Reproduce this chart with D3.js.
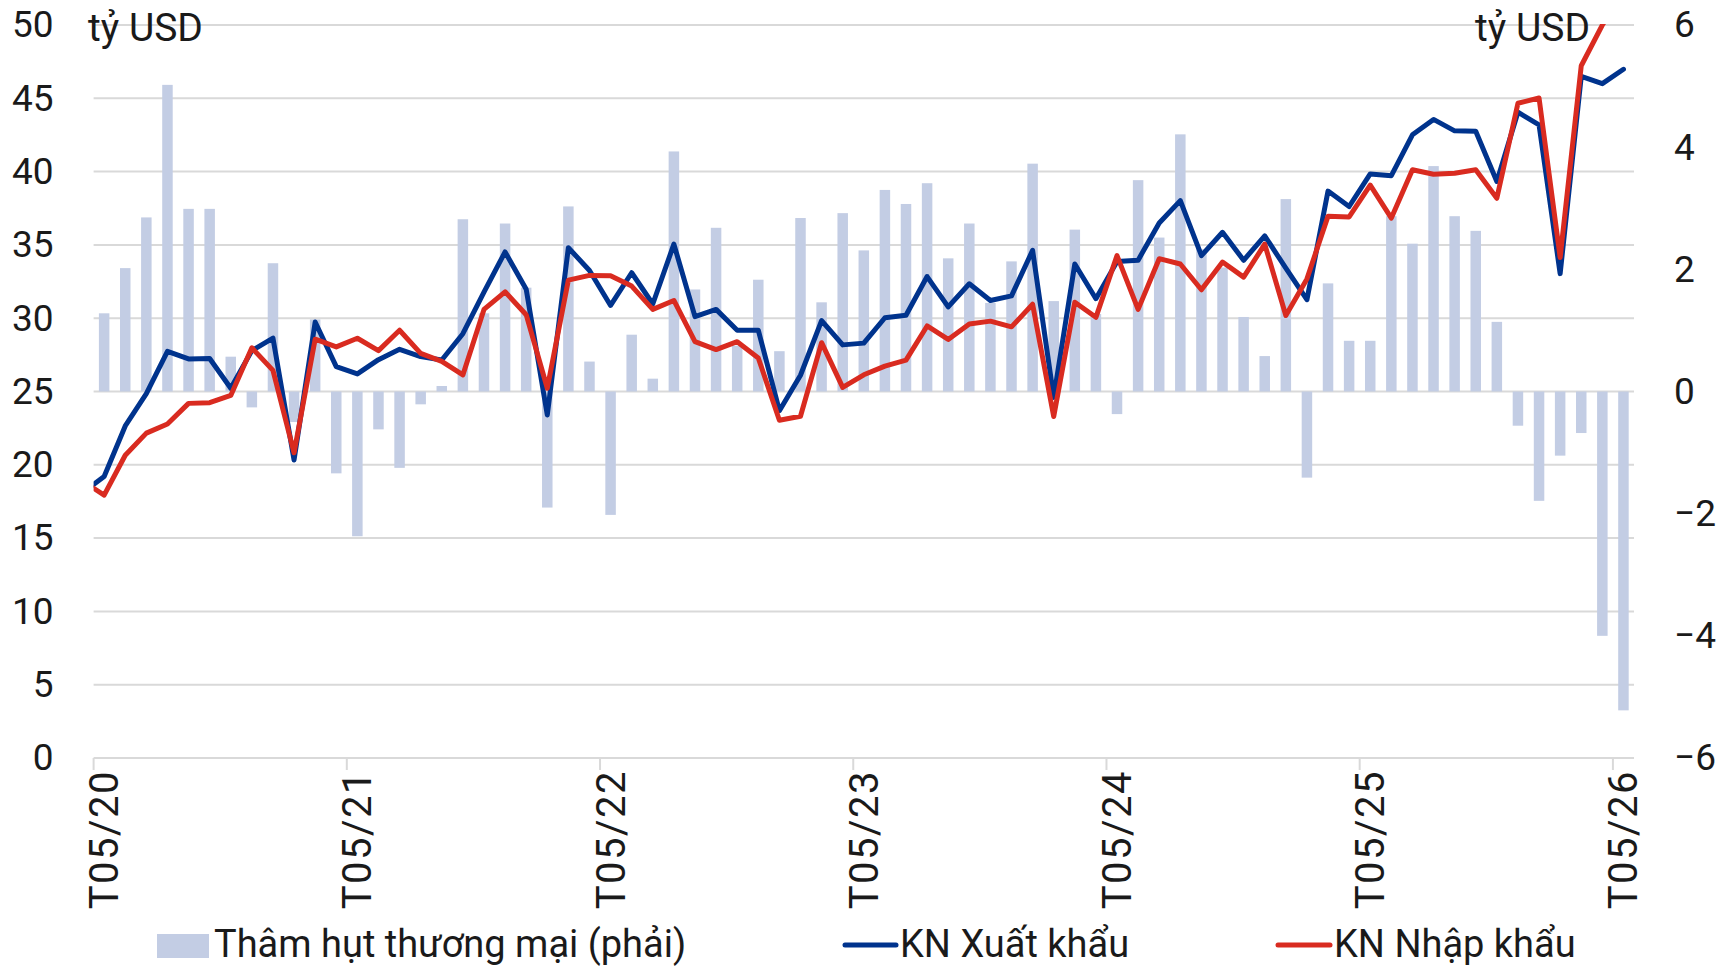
<!DOCTYPE html>
<html>
<head>
<meta charset="utf-8">
<script src="https://cdn.jsdelivr.net/npm/d3@7"></script>
<style>
  body { margin: 0; background: #fff; }
  svg { display: block; font-family: Roboto, "DejaVu Sans", sans-serif; }
</style>
</head>
<body>
<svg id="chart" width="1725" height="967"></svg>
<script>
// months shown on the axis (T05/20 .. T05/26)
const months = [
  "T05/20","T06/20","T07/20","T08/20","T09/20","T10/20","T11/20","T12/20",
  "T01/21","T02/21","T03/21","T04/21","T05/21","T06/21","T07/21","T08/21","T09/21","T10/21","T11/21","T12/21",
  "T01/22","T02/22","T03/22","T04/22","T05/22","T06/22","T07/22","T08/22","T09/22","T10/22","T11/22","T12/22",
  "T01/23","T02/23","T03/23","T04/23","T05/23","T06/23","T07/23","T08/23","T09/23","T10/23","T11/23","T12/23",
  "T01/24","T02/24","T03/24","T04/24","T05/24","T06/24","T07/24","T08/24","T09/24","T10/24","T11/24","T12/24",
  "T01/25","T02/25","T03/25","T04/25","T05/25","T06/25","T07/25","T08/25","T09/25","T10/25","T11/25","T12/25",
  "T01/26","T02/26","T03/26","T04/26","T05/26"
];
// month before the first one, only its line segment peeks into the plot
const prevMonth = "T04/20";
const tickLabels = ["T05/20","T05/21","T05/22","T05/23","T05/24","T05/25","T05/26"];

// export value, bn USD (left axis)
const exportsPrev = 18.12;
const exportsVal = [
  19.2, 22.65, 24.85, 27.74, 27.22, 27.25, 25.22, 27.79, 28.64, 20.33, 29.74, 26.7,
  26.2, 27.17, 27.88, 27.38, 27.15, 28.94, 31.78, 34.52, 31.98, 23.4, 34.81, 33.25,
  30.87, 33.1, 30.97, 35.05, 30.11, 30.6, 29.18, 29.18, 23.69, 26.11, 29.83, 28.18,
  28.3, 30.03, 30.2, 32.84, 30.77, 32.35, 31.21, 31.52, 34.63, 24.6, 33.7, 31.33,
  33.86, 33.96, 36.5, 38.02, 34.27, 35.86, 33.95, 35.62, 33.41, 31.26, 38.67, 37.62,
  39.84, 39.72, 42.51, 43.56, 42.78, 42.75, 39.33, 44.05, 43.19, 33.04, 46.49, 46.0,
  46.98
];
// import value, bn USD (left axis)
const importsPrev = 18.87;
const importsVal = [
  17.93, 20.65, 22.16, 22.78, 24.19, 24.24, 24.73, 27.98, 26.44, 20.82, 28.57, 28.04,
  28.63, 27.79, 29.18, 27.6, 27.05, 26.13, 30.6, 31.8, 30.24, 25.22, 32.6, 32.92,
  32.9, 32.19, 30.6, 31.21, 28.4, 27.86, 28.4, 27.29, 23.04, 23.31, 28.33, 25.28,
  26.14, 26.73, 27.14, 29.47, 28.55, 29.6, 29.8, 29.41, 30.95, 23.3, 31.09, 30.06,
  34.27, 30.6, 34.06, 33.7, 31.94, 33.83, 32.8, 35.05, 30.18, 32.68, 36.96, 36.91,
  39.08, 36.83, 40.13, 39.82, 39.89, 40.13, 38.18, 44.66, 45.02, 34.14, 47.22, 50.0,
  52.2
];
// trade balance, bn USD (right axis)
const balanceVal = [
  1.28, 2.02, 2.85, 5.02, 2.99, 2.99, 0.57, -0.26, 2.1, -0.5, 1.18, -1.34,
  -2.37, -0.62, -1.25, -0.21, 0.09, 2.82, 1.28, 2.75, 1.7, -1.9, 3.03, 0.49,
  -2.02, 0.93, 0.21, 3.93, 1.67, 2.68, 0.75, 1.83, 0.66, 2.84, 1.46, 2.92,
  2.31, 3.3, 3.07, 3.41, 2.18, 2.75, 1.45, 2.13, 3.73, 1.48, 2.65, 1.27,
  -0.37, 3.46, 2.52, 4.21, 2.33, 2.03, 1.22, 0.58, 3.15, -1.41, 1.77, 0.83,
  0.83, 2.87, 2.42, 3.69, 2.87, 2.63, 1.14, -0.56, -1.79, -1.05, -0.68, -4.0,
  -5.22
];
const leftTicks = [0, 5, 10, 15, 20, 25, 30, 35, 40, 45, 50];
const rightTicks = [-6, -4, -2, 0, 2, 4, 6];
const gridTicks = [0, 5, 10, 15, 20, 25, 30, 35, 40, 45, 50];

const names = {
  bar: "Thâm hụt thương mại (phải)",
  exp: "KN Xuất khẩu",
  imp: "KN Nhập khẩu",
  unit: "tỷ USD"
};

const colors = { bar: "#c3cde4", exp: "#00338d", imp: "#d92b20", grid: "#d9d9d9", text: "#1a1a1a" };

const svg = d3.select("#chart");
const plotL = 93.6, plotR = 1634, plotT = 25, plotB = 758;
const step = (plotR - plotL) / months.length;

// band scale includes the previous month just left of the plot
const x = d3.scaleBand()
  .domain([prevMonth, ...months])
  .range([plotL - step, plotR])
  .paddingInner(0);
const cx = m => x(m) + x.bandwidth() / 2;

const yL = d3.scaleLinear().domain([0, 50]).range([plotB, plotT]);
const yR = d3.scaleLinear().domain([-6, 6]).range([plotB, plotT]);

// clip for the lines
svg.append("defs").append("clipPath").attr("id", "plotClip")
  .append("rect")
  .attr("x", plotL).attr("y", plotT - 1)
  .attr("width", plotR - plotL).attr("height", plotB - plotT + 1);

// gridlines
svg.append("g").selectAll("line")
  .data(gridTicks)
  .join("line")
  .attr("x1", plotL).attr("x2", plotR)
  .attr("y1", d => yL(d)).attr("y2", d => yL(d))
  .attr("stroke", colors.grid)
  .attr("stroke-width", 2);

// x tick marks at band edges
svg.append("g").selectAll("line")
  .data(tickLabels)
  .join("line")
  .attr("x1", d => x(d)).attr("x2", d => x(d))
  .attr("y1", plotB).attr("y2", plotB + 12)
  .attr("stroke", colors.grid)
  .attr("stroke-width", 2);

// bars (right axis)
const barW = 10.5;
svg.append("g").selectAll("rect")
  .data(months.map((m, i) => ({ m, v: balanceVal[i] })))
  .join("rect")
  .attr("x", d => cx(d.m) - barW / 2)
  .attr("width", barW)
  .attr("y", d => Math.min(yR(d.v), yR(0)))
  .attr("height", d => Math.abs(yR(d.v) - yR(0)))
  .attr("fill", colors.bar);

// lines
const line = d3.line().x(d => cx(d.m)).y(d => yL(d.v));
const expData = [{ m: prevMonth, v: exportsPrev }, ...months.map((m, i) => ({ m, v: exportsVal[i] }))];
const impData = [{ m: prevMonth, v: importsPrev }, ...months.map((m, i) => ({ m, v: importsVal[i] }))];

const lines = svg.append("g").attr("clip-path", "url(#plotClip)");
lines.append("path")
  .datum(expData)
  .attr("fill", "none")
  .attr("stroke", colors.exp)
  .attr("stroke-width", 5)
  .attr("stroke-linejoin", "round")
  .attr("stroke-linecap", "round")
  .attr("d", line);
lines.append("path")
  .datum(impData)
  .attr("fill", "none")
  .attr("stroke", colors.imp)
  .attr("stroke-width", 5)
  .attr("stroke-linejoin", "round")
  .attr("stroke-linecap", "round")
  .attr("d", line);

// left axis
const axL = svg.append("g")
  .attr("transform", `translate(${plotL - 40},0)`)
  .call(d3.axisLeft(yL).tickValues(leftTicks).tickSize(0).tickPadding(0));
axL.select(".domain").remove();
axL.selectAll("text")
  .attr("fill", colors.text)
  .style("font-size", "37px")
  .style("font-family", "Roboto");

// right axis
const axR = svg.append("g")
  .attr("transform", `translate(${plotR + 40},0)`)
  .call(d3.axisRight(yR).tickValues(rightTicks).tickSize(0).tickPadding(0));
axR.select(".domain").remove();
axR.selectAll("text")
  .attr("fill", colors.text)
  .style("font-size", "37px")
  .style("font-family", "Roboto");

// x labels, rotated
svg.append("g").selectAll("text")
  .data(tickLabels)
  .join("text")
  .attr("transform", d => `translate(${cx(d) + 14},${plotB + 12}) rotate(-90)`)
  .attr("text-anchor", "end")
  .attr("fill", colors.text)
  .style("font-size", "40px")
  .style("letter-spacing", "1.5px")
  .text(d => d);

// unit labels
svg.append("text")
  .attr("x", 88).attr("y", 41)
  .attr("fill", colors.text)
  .style("font-size", "39px")
  .text(names.unit);
svg.append("text")
  .attr("x", 1590).attr("y", 41)
  .attr("text-anchor", "end")
  .attr("fill", colors.text)
  .style("font-size", "39px")
  .text(names.unit);

// legend
const legend = svg.append("g");
legend.append("rect")
  .attr("x", 157).attr("y", 934).attr("width", 52).attr("height", 24)
  .attr("fill", colors.bar);
legend.append("text")
  .attr("x", 214).attr("y", 957)
  .attr("fill", colors.text)
  .style("font-size", "38px")
  .text(names.bar);

legend.append("line")
  .attr("x1", 845).attr("x2", 896).attr("y1", 945).attr("y2", 945)
  .attr("stroke", colors.exp).attr("stroke-width", 5).attr("stroke-linecap", "round");
legend.append("text")
  .attr("x", 900).attr("y", 957)
  .attr("fill", colors.text)
  .style("font-size", "38px")
  .text(names.exp);

legend.append("line")
  .attr("x1", 1278).attr("x2", 1330).attr("y1", 945).attr("y2", 945)
  .attr("stroke", colors.imp).attr("stroke-width", 5).attr("stroke-linecap", "round");
legend.append("text")
  .attr("x", 1334).attr("y", 957)
  .attr("fill", colors.text)
  .style("font-size", "38px")
  .text(names.imp);
</script>
</body>
</html>
